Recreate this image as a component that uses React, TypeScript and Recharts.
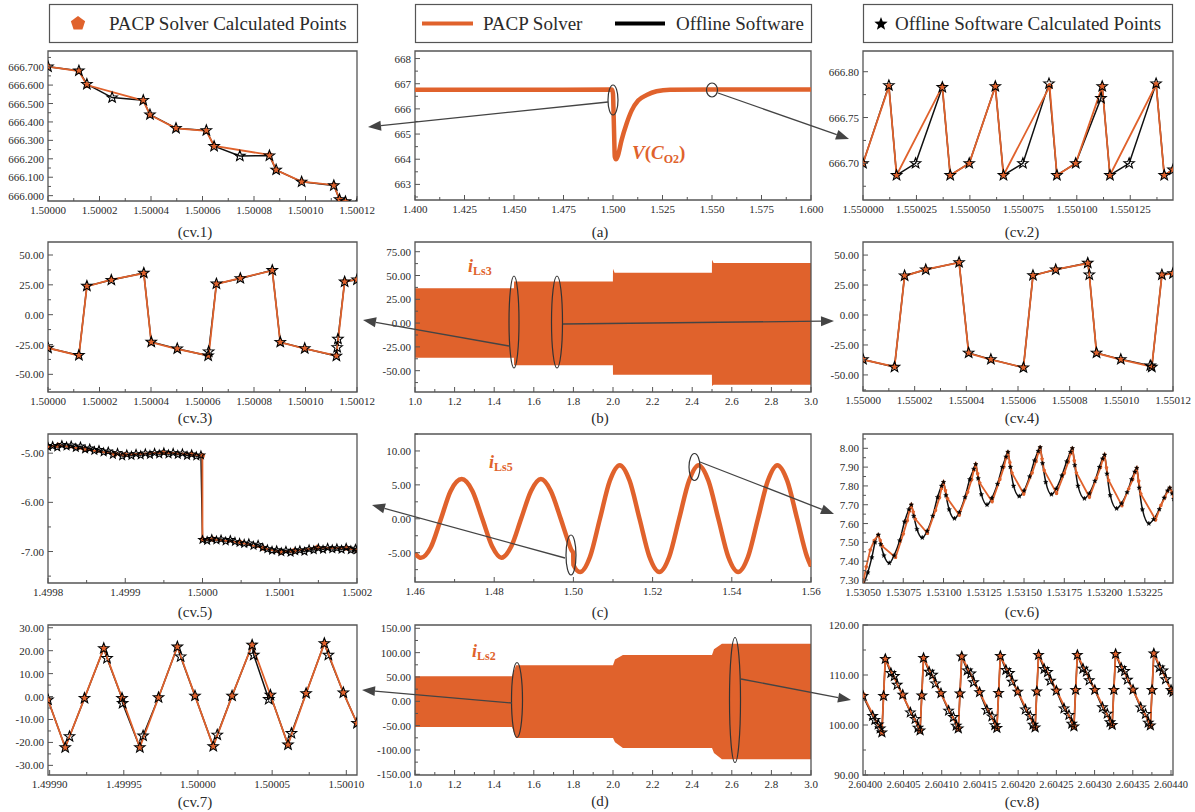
import React from 'react';
import { ComposedChart, Line, Area, XAxis, YAxis, ReferenceArea } from 'recharts';

const ORANGE = '#E0622C';
const AXIS = '#555555';
const TXT = '#2a2a2a';
const FONT = '"Liberation Serif", "Times New Roman", Times, serif';

// ---------------- data (t, value) ----------------
const cv1Pacp = [[1.5, 666.7], [1.500012, 666.676], [1.5000151, 666.6], [1.500037, 666.516], [1.5000396, 666.438], [1.5000497, 666.365], [1.5000615, 666.351], [1.5000645, 666.27], [1.500086, 666.221], [1.5000886, 666.139], [1.5000985, 666.076], [1.500111, 666.058], [1.5001132, 665.98], [1.5001155, 665.968], [1.50012, 665.955]];
const cv1Offline = [[1.5, 666.7], [1.500012, 666.678], [1.5000151, 666.605], [1.5000249, 666.532], [1.500037, 666.518], [1.5000396, 666.44], [1.5000497, 666.366], [1.5000615, 666.354], [1.5000645, 666.268], [1.5000745, 666.215], [1.500086, 666.217], [1.5000886, 666.14], [1.5000985, 666.075], [1.500111, 666.055], [1.5001132, 665.98], [1.5001155, 665.968], [1.50012, 665.955]];

const cv2Pacp = [[1.55, 666.7], [1.5500121, 666.784], [1.5500157, 666.687], [1.5500371, 666.784], [1.5500408, 666.687], [1.5500497, 666.7], [1.5500619, 666.784], [1.5500657, 666.687], [1.5500873, 666.784], [1.5500907, 666.687], [1.5500995, 666.7], [1.5501119, 666.784], [1.5501155, 666.687], [1.5501371, 666.786], [1.5501409, 666.687], [1.550145, 666.693]];
const cv2Offline = [[1.55, 666.7], [1.5500121, 666.785], [1.5500157, 666.687], [1.5500246, 666.7], [1.5500371, 666.783], [1.5500408, 666.687], [1.5500497, 666.7], [1.5500619, 666.784], [1.5500657, 666.687], [1.5500748, 666.7], [1.550087, 666.787], [1.5500907, 666.687], [1.5500995, 666.7], [1.5501113, 666.771], [1.5501119, 666.784], [1.5501155, 666.687], [1.5501245, 666.7], [1.5501371, 666.787], [1.5501409, 666.687], [1.550145, 666.693]];

const cv3Pacp = [[1.5, -27.9], [1.500012, -34.3], [1.5000151, 23.7], [1.5000246, 29.3], [1.5000372, 34.6], [1.5000401, -23.2], [1.5000502, -28.8], [1.5000624, -34.4], [1.5000654, 25.7], [1.5000747, 30.7], [1.5000871, 36.9], [1.5000902, -23.2], [1.5000997, -28.5], [1.500112, -34.4], [1.5001152, 27.9], [1.50012, 29.3]];
const cv3Offline = [[1.5, -27.9], [1.500012, -34.0], [1.5000151, 24.0], [1.5000246, 29.0], [1.5000372, 34.9], [1.5000401, -22.9], [1.5000502, -28.5], [1.5000622, -34.4], [1.5000624, -31.0], [1.5000654, 25.9], [1.5000747, 30.4], [1.5000871, 37.2], [1.5000902, -23.0], [1.5000997, -28.3], [1.500112, -34.6], [1.5001123, -27.4], [1.5001126, -20.4], [1.5001152, 27.6], [1.50012, 29.3]];

const cv4Pacp = [[1.55, -37.3], [1.5500122, -43.1], [1.5500161, 32.5], [1.5500243, 38.1], [1.5500372, 43.7], [1.5500409, -31.9], [1.5500495, -37.3], [1.5500621, -43.7], [1.5500658, 32.8], [1.5500746, 38.1], [1.5500872, 43.1], [1.5500904, -31.9], [1.5500998, -37.3], [1.5501118, -43.1], [1.5501157, 33.3], [1.55012, 34.7]];
const cv4Offline = [[1.55, -37.0], [1.5500122, -43.4], [1.5500161, 32.8], [1.5500243, 37.8], [1.5500372, 43.9], [1.5500409, -31.6], [1.5500495, -37.0], [1.5500621, -43.9], [1.5500658, 33.1], [1.5500746, 37.8], [1.550087, 43.4], [1.5500876, 33.6], [1.5500904, -31.6], [1.5500998, -37.0], [1.5501112, -42.2], [1.5501118, -43.4], [1.5501157, 33.6], [1.55012, 34.7]];

const cv5Pacp = [[1.4998, -4.86], [1.499813, -4.84], [1.4998476, -4.92], [1.4998865, -5.02], [1.4998995, -5.03], [1.4999492, -4.99], [1.4999859, -5.02], [1.4999999, -5.05], [1.5, -6.75], [1.500014, -6.75], [1.5000495, -6.82], [1.5000789, -6.93], [1.5001005, -7.01], [1.5001178, -6.99], [1.5001481, -6.92], [1.500187, -6.93], [1.5002, -6.97]];
const cv5Offline = [[1.4998, -4.87], [1.499806, -4.85], [1.499812, -4.88], [1.499818, -4.83], [1.499824, -4.86], [1.49983, -4.84], [1.499836, -4.89], [1.499842, -4.86], [1.499848, -4.92], [1.499854, -4.9], [1.49986, -4.95], [1.499866, -4.93], [1.499872, -4.98], [1.499878, -4.96], [1.499884, -5.03], [1.49989, -4.99], [1.499896, -5.06], [1.499902, -5.02], [1.499908, -5.05], [1.499914, -5.01], [1.49992, -5.04], [1.499926, -5.0], [1.499932, -5.03], [1.499938, -4.99], [1.499944, -5.02], [1.49995, -4.98], [1.499956, -5.02], [1.499962, -4.99], [1.499968, -5.03], [1.499974, -5.0], [1.49998, -5.05], [1.499986, -5.02], [1.499992, -5.06], [1.499998, -5.04], [1.5, -6.76], [1.500006, -6.78], [1.500012, -6.74], [1.500018, -6.77], [1.500024, -6.75], [1.50003, -6.79], [1.500036, -6.76], [1.500042, -6.8], [1.500048, -6.82], [1.500054, -6.84], [1.50006, -6.83], [1.500066, -6.88], [1.500072, -6.86], [1.500078, -6.92], [1.500084, -6.95], [1.50009, -6.98], [1.500096, -6.97], [1.500102, -7.01], [1.500108, -6.98], [1.500114, -7.02], [1.50012, -6.99], [1.500126, -6.97], [1.500132, -7.0], [1.500138, -6.95], [1.500144, -6.97], [1.50015, -6.93], [1.500156, -6.96], [1.500162, -6.92], [1.500168, -6.95], [1.500174, -6.93], [1.50018, -6.96], [1.500186, -6.92], [1.500192, -6.97], [1.500198, -6.94], [1.5002, -6.97]];

const cv6Pacp = [[1.5305, 7.28], [1.53052, 7.37], [1.530545, 7.46], [1.53057, 7.51], [1.530595, 7.54], [1.530607, 7.51], [1.53062, 7.48], [1.530702, 7.42], [1.53075, 7.545], [1.530775, 7.616], [1.530788, 7.666], [1.5308, 7.7], [1.530812, 7.662], [1.530825, 7.624], [1.5309, 7.548], [1.53095, 7.67], [1.530975, 7.738], [1.530988, 7.787], [1.531, 7.82], [1.531012, 7.776], [1.531025, 7.733], [1.531098, 7.645], [1.53115, 7.767], [1.531175, 7.834], [1.531188, 7.883], [1.5312, 7.915], [1.531212, 7.865], [1.531225, 7.816], [1.531302, 7.716], [1.53135, 7.835], [1.531375, 7.901], [1.531388, 7.948], [1.5314, 7.98], [1.531412, 7.924], [1.531425, 7.869], [1.531498, 7.757], [1.53155, 7.869], [1.531575, 7.931], [1.531588, 7.975], [1.5316, 8.005], [1.531612, 7.944], [1.531625, 7.883], [1.531702, 7.76], [1.53175, 7.868], [1.531775, 7.928], [1.531788, 7.971], [1.5318, 8.0], [1.531812, 7.935], [1.531825, 7.87], [1.531906, 7.74], [1.53195, 7.841], [1.531975, 7.898], [1.531988, 7.938], [1.532, 7.965], [1.532012, 7.897], [1.532025, 7.83], [1.532108, 7.695], [1.53215, 7.785], [1.532175, 7.835], [1.532188, 7.871], [1.5322, 7.895], [1.532212, 7.826], [1.532225, 7.758], [1.532317, 7.62], [1.53235, 7.697], [1.532375, 7.739], [1.53239, 7.77], [1.532405, 7.79], [1.53242, 7.765], [1.53243, 7.74]];
const cv6Offline = [[1.5305, 7.27], [1.53053, 7.34], [1.530555, 7.42], [1.530575, 7.5], [1.530595, 7.54], [1.53061, 7.49], [1.53063, 7.43], [1.530663, 7.39], [1.530693, 7.43], [1.530728, 7.51], [1.530758, 7.61], [1.530785, 7.675], [1.5308, 7.7], [1.530815, 7.64], [1.530835, 7.57], [1.530868, 7.525], [1.530898, 7.56], [1.530933, 7.64], [1.530963, 7.74], [1.530988, 7.8], [1.531, 7.82], [1.531015, 7.75], [1.531035, 7.675], [1.531068, 7.627], [1.531098, 7.66], [1.531133, 7.74], [1.531163, 7.835], [1.531188, 7.89], [1.5312, 7.915], [1.531215, 7.84], [1.531235, 7.755], [1.53127, 7.7], [1.5313, 7.735], [1.531335, 7.81], [1.531365, 7.9], [1.531388, 7.955], [1.5314, 7.98], [1.531415, 7.9], [1.531435, 7.8], [1.53147, 7.745], [1.5315, 7.775], [1.531535, 7.85], [1.531565, 7.935], [1.531588, 7.985], [1.5316, 8.005], [1.531615, 7.92], [1.531635, 7.82], [1.53167, 7.755], [1.5317, 7.785], [1.531735, 7.855], [1.531765, 7.93], [1.531788, 7.98], [1.5318, 8.0], [1.531815, 7.91], [1.531835, 7.8], [1.531875, 7.733], [1.531905, 7.76], [1.53194, 7.826], [1.531968, 7.9], [1.531988, 7.945], [1.532, 7.965], [1.532015, 7.865], [1.532035, 7.75], [1.532075, 7.68], [1.532105, 7.706], [1.53214, 7.766], [1.532168, 7.835], [1.532188, 7.875], [1.5322, 7.895], [1.532215, 7.79], [1.532235, 7.675], [1.532275, 7.6], [1.532305, 7.623], [1.53234, 7.676], [1.53237, 7.737], [1.532392, 7.775], [1.532405, 7.79], [1.53242, 7.76], [1.53243, 7.73]];

const cv7Pacp = [[1.4998989, -1.4], [1.4999105, -22.2], [1.4999235, -0.7], [1.4999365, 21.0], [1.4999488, -0.7], [1.4999608, -22.2], [1.4999734, -0.4], [1.4999861, 21.7], [1.499998, 0.3], [1.5000103, -21.7], [1.500023, 0.3], [1.5000365, 22.5], [1.5000488, 0.7], [1.5000607, -21.0], [1.5000729, 1.4], [1.5000852, 23.2], [1.500098, 1.7], [1.5001072, -11.6]];
const cv7Offline = [[1.4998989, -1.4], [1.4999105, -22.2], [1.4999134, -17.4], [1.4999235, -0.7], [1.4999365, 21.0], [1.4999387, 16.7], [1.4999488, -0.7], [1.4999492, -2.9], [1.4999608, -22.2], [1.499963, -17.1], [1.4999734, -0.4], [1.4999861, 21.7], [1.4999883, 17.4], [1.499998, 0.3], [1.5000103, -21.7], [1.500013, -16.7], [1.500023, 0.3], [1.5000365, 22.5], [1.5000376, 18.1], [1.5000477, -1.2], [1.5000488, 0.7], [1.5000607, -21.0], [1.500063, -16.0], [1.5000729, 1.4], [1.5000852, 23.2], [1.5000879, 18.1], [1.500098, 1.7], [1.5001072, -11.6]];

const cv8Pacp = [[2.603997, 106.0], [2.6040217, 98.5], [2.6040239, 105.8], [2.6040262, 113.2], [2.604049, 105.9], [2.6040717, 98.9], [2.6040739, 105.9], [2.6040762, 113.4], [2.604099, 106.3], [2.6041217, 99.3], [2.6041239, 106.3], [2.6041262, 113.7], [2.6041495, 106.6], [2.6041722, 99.4], [2.6041744, 106.4], [2.6041767, 113.8], [2.6041995, 106.7], [2.6042222, 99.5], [2.6042244, 106.7], [2.6042267, 114.0], [2.60425, 107.0], [2.604273, 99.7], [2.6042752, 107.0], [2.6042775, 114.0], [2.6043005, 107.0], [2.604323, 100.0], [2.6043252, 107.0], [2.6043275, 114.2], [2.6043502, 107.0], [2.604373, 99.9], [2.6043752, 107.0], [2.6043775, 114.3], [2.6044, 107.0], [2.6044026, 106.6]];
const cv8Offline = [[2.603997, 105.8], [2.6040096, 101.8], [2.6040126, 101.0], [2.604017, 100.1], [2.6040196, 99.3], [2.6040217, 98.5], [2.6040239, 105.8], [2.6040262, 113.2],
  [2.6040335, 110.41], [2.604038, 109.78], [2.6040417, 108.04], [2.604049, 106.05], [2.604059, 102.5], [2.6040653, 101.2], [2.604069, 99.46],
  [2.6040717, 98.9], [2.6040739, 105.9], [2.6040762, 113.4],
  [2.6040835, 110.64], [2.604088, 110.03], [2.6040917, 108.31], [2.604099, 106.35], [2.604109, 102.85], [2.6041153, 101.57], [2.604119, 99.85],
  [2.6041217, 99.3], [2.6041239, 106.3], [2.6041262, 113.7],
  [2.6041335, 110.91], [2.604138, 110.28], [2.6041417, 108.54], [2.6041495, 106.55], [2.604159, 103.0], [2.6041658, 101.7], [2.6041695, 99.96],
  [2.6041722, 99.4], [2.6041744, 106.4], [2.6041767, 113.8],
  [2.604184, 111.01], [2.6041885, 110.38], [2.6041922, 108.64], [2.6041995, 106.65], [2.6042095, 103.1], [2.6042158, 101.8], [2.6042195, 100.06],
  [2.6042222, 99.5], [2.6042244, 106.7], [2.6042267, 114.0],
  [2.604234, 111.21], [2.6042385, 110.58], [2.6042422, 108.84], [2.60425, 106.85], [2.60426, 103.3], [2.6042665, 102.0], [2.6042702, 100.26],
  [2.604273, 99.7], [2.6042752, 107.0], [2.6042775, 114.0],
  [2.6042848, 111.26], [2.6042893, 110.66], [2.604293, 108.94], [2.6043003, 107.0], [2.6043103, 103.52], [2.6043166, 102.26], [2.6043203, 100.54],
  [2.604323, 100.0], [2.6043252, 107.0], [2.6043275, 114.2],
  [2.6043348, 111.41], [2.6043393, 110.78], [2.604343, 109.04], [2.6043503, 107.05], [2.6043603, 103.5], [2.6043666, 102.2], [2.6043703, 100.46],
  [2.604373, 99.9], [2.6043752, 107.0], [2.6043775, 114.3],
  [2.6043848, 111.51], [2.6043893, 110.88], [2.604393, 109.14], [2.6044, 107.0], [2.6044026, 106.6]];

const aPacp = [[1.4, 666.76], [1.45, 666.76], [1.4995, 666.77], [1.5, 666.6], [1.5003, 665.8], [1.5006, 664.9], [1.5009, 664.1], [1.5015, 664.0], [1.5025, 664.15], [1.5043, 664.75], [1.5068, 665.4], [1.5094, 665.93], [1.5127, 666.33], [1.517, 666.55], [1.522, 666.7], [1.5288, 666.76], [1.55, 666.77], [1.6, 666.77]];
const aOffline = aPacp;

const cPacp = [[1.46, -5.1], [1.4615, -5.75], [1.464, -4.2], [1.4665, -0.1], [1.469, 4.1], [1.4718, 5.85], [1.4745, 4.1], [1.477, 0.0], [1.4795, -4.1], [1.4818, -5.75], [1.4843, -4.1], [1.4868, 0.0], [1.4893, 4.1], [1.4918, 5.85], [1.4943, 4.1], [1.4968, 0.0], [1.4985, -3.0], [1.4995, -4.6], [1.49995, -5.05], [1.5, -6.8], [1.5017, -7.85], [1.5042, -5.6], [1.5067, 0.0], [1.5092, 5.6], [1.5117, 7.9], [1.5142, 5.6], [1.5167, 0.0], [1.5192, -5.6], [1.5217, -7.85], [1.5242, -5.6], [1.5267, 0.0], [1.5292, 5.6], [1.5316, 7.9], [1.5341, 5.6], [1.5366, 0.0], [1.5391, -5.6], [1.5416, -7.85], [1.5441, -5.6], [1.5466, 0.0], [1.5491, 5.6], [1.5515, 7.9], [1.554, 5.6], [1.5565, 0.0], [1.559, -5.6], [1.56, -7.0]];
const cOffline = cPacp;

// envelopes of the fast oscillating currents: [t, low, high]
const bBand = [[1.0, -36.5, 36.5], [1.4995, -36.5, 36.5], [1.5005, -44.4, 43.8], [1.9995, -44.4, 43.8], [2.0, -54.2, 57.0], [2.008, -54.2, 53.0], [2.4995, -54.2, 53.0], [2.5, -66.0, 66.5], [2.508, -64.7, 63.2], [3.0, -64.7, 63.2]];
const dBand = [[1.0, -52.7, 51.4], [1.49, -52.7, 51.4], [1.51, -75.3, 74.0], [2.0, -75.3, 74.0], [2.01, -84.0, 86.0], [2.05, -96.0, 95.0], [2.5, -96.0, 95.0], [2.51, -106.0, 107.0], [2.55, -119.0, 118.5], [3.0, -119.0, 118.5]];

// ---------------- ticks ----------------
const cv1X = [1.5, 1.50002, 1.50004, 1.50006, 1.50008, 1.5001, 1.50012];
const cv1Y = [666.0, 666.1, 666.2, 666.3, 666.4, 666.5, 666.6, 666.7];
const aX = [1.4, 1.425, 1.45, 1.475, 1.5, 1.525, 1.55, 1.575, 1.6];
const aY = [663, 664, 665, 666, 667, 668];
const cv2X = [1.55, 1.550025, 1.55005, 1.550075, 1.5501, 1.550125];
const cv2Y = [666.7, 666.75, 666.8];
const cv3X = [1.5, 1.50002, 1.50004, 1.50006, 1.50008, 1.5001, 1.50012];
const cv3Y = [-50, -25, 0, 25, 50];
const bX = [1.0, 1.2, 1.4, 1.6, 1.8, 2.0, 2.2, 2.4, 2.6, 2.8, 3.0];
const bY = [-50, -25, 0, 25, 50, 75];
const cv4X = [1.55, 1.55002, 1.55004, 1.55006, 1.55008, 1.5501, 1.55012];
const cv4Y = [-50, -25, 0, 25, 50];
const cv5X = [1.4998, 1.4999, 1.5, 1.5001, 1.5002];
const cv5Y = [-7, -6, -5];
const cX = [1.46, 1.48, 1.5, 1.52, 1.54, 1.56];
const cY = [-5, 0, 5, 10];
const cv6X = [1.5305, 1.53075, 1.531, 1.53125, 1.5315, 1.53175, 1.532, 1.53225];
const cv6Y = [7.3, 7.4, 7.5, 7.6, 7.7, 7.8, 7.9, 8.0];
const cv7X = [1.4999, 1.49995, 1.5, 1.50005, 1.5001];
const cv7Y = [-30, -20, -10, 0, 10, 20, 30];
const dX = [1.0, 1.2, 1.4, 1.6, 1.8, 2.0, 2.2, 2.4, 2.6, 2.8, 3.0];
const dY = [-150, -100, -50, 0, 50, 100, 150];
const cv8X = [2.604, 2.60405, 2.6041, 2.60415, 2.6042, 2.60425, 2.6043, 2.60435, 2.6044];
const cv8Y = [90, 100, 110, 120];

// ---------------- helpers ----------------
const rows = (pts: number[][]) => pts.map(([t, v]) => ({ t, v }));
const bandRows = (pts: number[][]) => pts.map(([t, lo, hi]) => ({ t, r: [lo, hi] }));

function withMinor(majors: number[], dom: number[]) {
  const step = majors[1] - majors[0];
  const out = [...majors];
  for (let i = 0; i < majors.length - 1; i++) out.push((majors[i] + majors[i + 1]) / 2);
  const lo = majors[0] - step / 2;
  const hi = majors[majors.length - 1] + step / 2;
  if (lo >= dom[0]) out.push(lo);
  if (hi <= dom[1]) out.push(hi);
  return out.sort((a, b) => a - b);
}
const isMajor = (v: number, majors: number[]) => {
  const s = Math.abs(majors[1] - majors[0]);
  return majors.some((m) => Math.abs(m - v) < s * 1e-3);
};
const xTick = (majors: number[], dec: number, fs: number) => (p: any) => {
  const { x, y, payload } = p;
  const v = payload.value;
  const M = isMajor(v, majors);
  return (
    <g>
      <line x1={x} x2={x} y1={y} y2={y - (M ? 5 : 3)} stroke={AXIS} strokeWidth={1} />
      {M ? (
        <text x={x} y={y + 13} textAnchor="middle" fontSize={fs} fontFamily={FONT} fill={TXT}>
          {v.toFixed(dec)}
        </text>
      ) : null}
    </g>
  );
};
const yTick = (majors: number[], dec: number) => (p: any) => {
  const { x, y, payload } = p;
  const v = payload.value;
  const M = isMajor(v, majors);
  return (
    <g>
      <line x1={x} x2={x + (M ? 5 : 3)} y1={y} y2={y} stroke={AXIS} strokeWidth={1} />
      {M ? (
        <text x={x - 4} y={y + 4} textAnchor="end" fontSize={11} fontFamily={FONT} fill={TXT}>
          {v.toFixed(dec)}
        </text>
      ) : null}
    </g>
  );
};

const starPath = (cx: number, cy: number, R: number) => {
  const r = R * 0.42;
  let d = '';
  for (let i = 0; i < 10; i++) {
    const a = -Math.PI / 2 + (i * Math.PI) / 5;
    const rr = i % 2 === 0 ? R : r;
    d += (i ? 'L' : 'M') + (cx + rr * Math.cos(a)).toFixed(2) + ',' + (cy + rr * Math.sin(a)).toFixed(2);
  }
  return d + 'Z';
};
const pentPath = (cx: number, cy: number, R: number) => {
  let d = '';
  for (let i = 0; i < 5; i++) {
    const a = -Math.PI / 2 + (i * 2 * Math.PI) / 5;
    d += (i ? 'L' : 'M') + (cx + R * Math.cos(a)).toFixed(2) + ',' + (cy + R * Math.sin(a)).toFixed(2);
  }
  return d + 'Z';
};
const starDot = (R: number, filled: boolean) => (p: any) => {
  const { cx, cy, index } = p;
  if (!Number.isFinite(cx) || !Number.isFinite(cy)) return <g key={`s${index}`} />;
  return (
    <path key={`s${index}`} d={starPath(cx, cy, R)} fill={filled ? '#000' : 'none'} stroke="#000" strokeWidth={filled ? 0.4 : 1.1} />
  );
};
const pentDot = (R: number) => (p: any) => {
  const { cx, cy, index } = p;
  if (!Number.isFinite(cx) || !Number.isFinite(cy)) return <g key={`p${index}`} />;
  return <path key={`p${index}`} d={pentPath(cx, cy, R)} fill={ORANGE} stroke="none" />;
};

const ML = 50, MT = 6, MR = 24, MB = 24;

function Panel({ cfg, data, children }: any) {
  const [x0, y0, x1, y1] = cfg.rect;
  const w = x1 - x0 + ML + MR;
  const h = y1 - y0 + MT + MB;
  return (
    <div style={{ position: 'absolute', left: x0 - ML, top: y0 - MT, width: w, height: h }}>
      <ComposedChart width={w} height={h} data={data} margin={{ top: MT, right: MR, bottom: 0, left: 0 }}>
        <XAxis type="number" dataKey="t" domain={cfg.xd} allowDataOverflow ticks={withMinor(cfg.xt, cfg.xd)} interval={0}
          height={MB} tickSize={0} tickMargin={0} tickLine={false} axisLine={false} tick={xTick(cfg.xt, cfg.xdec, cfg.xfs || 11)} />
        <YAxis type="number" domain={cfg.yd} allowDataOverflow ticks={withMinor(cfg.yt, cfg.yd)} interval={0}
          width={ML} tickSize={0} tickMargin={0} tickLine={false} axisLine={false} tick={yTick(cfg.yt, cfg.ydec)} />
        {children}
        <ReferenceArea x1={cfg.xd[0]} x2={cfg.xd[1]} y1={cfg.yd[0]} y2={cfg.yd[1]} fill="none" stroke={AXIS} strokeWidth={1.3} ifOverflow="visible" />
      </ComposedChart>
    </div>
  );
}

function pointSeries(pacp: number[][], off: number[][], starR: number, pentR: number, filled: boolean, smoothBlack: boolean) {
  return [
    <Line key="ob" data={rows(off)} dataKey="v" type={smoothBlack ? 'monotone' : 'linear'} stroke="#111" strokeWidth={1.5} dot={false} activeDot={false} isAnimationActive={false} />,
    <Line key="pa" data={rows(pacp)} dataKey="v" type="linear" stroke={ORANGE} strokeWidth={1.8} dot={pentDot(pentR)} activeDot={false} isAnimationActive={false} />,
    <Line key="st" data={rows(off)} dataKey="v" type="linear" stroke="none" dot={starDot(starR, filled)} activeDot={false} isAnimationActive={false} />,
  ];
}
function lineSeries(pacp: number[][], off: number[][]) {
  return [
    <Line key="ob" data={rows(off)} dataKey="v" type="monotone" stroke="#000" strokeWidth={2.5} dot={false} activeDot={false} isAnimationActive={false} />,
    <Line key="pa" data={rows(pacp)} dataKey="v" type="monotone" stroke={ORANGE} strokeWidth={4.5} dot={false} activeDot={false} isAnimationActive={false} />,
  ];
}
const band = <Area key="band" dataKey="r" type="linear" stroke="none" fill={ORANGE} fillOpacity={1} isAnimationActive={false} activeDot={false} />;

// layout (page pixels of each plot frame)
const cfgCv1 = { rect: [48, 51, 357, 201], xd: [1.5, 1.50012], yd: [665.971, 666.785], xt: cv1X, yt: cv1Y, xdec: 5, ydec: 3 };
const cfgA = { rect: [415, 51, 811, 200], xd: [1.4, 1.6], yd: [662.38, 668.3], xt: aX, yt: aY, xdec: 3, ydec: 0 };
const cfgCv2 = { rect: [863, 51, 1173, 200], xd: [1.55, 1.550145], yd: [666.66, 666.8226], xt: cv2X, yt: cv2Y, xdec: 6, ydec: 2 };
const cfgCv3 = { rect: [48, 242, 357, 392], xd: [1.5, 1.50012], yd: [-64.8, 60.9], xt: cv3X, yt: cv3Y, xdec: 5, ydec: 2 };
const cfgB = { rect: [415, 242, 811, 392], xd: [1.0, 3.0], yd: [-72.4, 85.2], xt: bX, yt: bY, xdec: 1, ydec: 2 };
const cfgCv4 = { rect: [863, 242, 1173, 391], xd: [1.55, 1.55012], yd: [-63.4, 60.9], xt: cv4X, yt: cv4Y, xdec: 5, ydec: 2 };
const cfgCv5 = { rect: [48, 434, 357, 583], xd: [1.4998, 1.5002], yd: [-7.64, -4.61], xt: cv5X, yt: cv5Y, xdec: 4, ydec: 2 };
const cfgC = { rect: [415, 434, 811, 582], xd: [1.46, 1.56], yd: [-9.32, 12.5], xt: cX, yt: cY, xdec: 2, ydec: 2 };
const cfgCv6 = { rect: [863, 434, 1173, 583], xd: [1.5305, 1.532425], yd: [7.284, 8.076], xt: cv6X, yt: cv6Y, xdec: 5, ydec: 2 };
const cfgCv7 = { rect: [48, 625, 357, 775], xd: [1.4998989, 1.5001072], yd: [-34.2, 31.2], xt: cv7X, yt: cv7Y, xdec: 5, ydec: 2 };
const cfgD = { rect: [415, 625, 811, 775], xd: [1.0, 3.0], yd: [-151.4, 156.8], xt: dX, yt: dY, xdec: 1, ydec: 2 };
const cfgCv8 = { rect: [863, 625, 1173, 775], xd: [2.603997, 2.6044026], yd: [90, 120], xt: cv8X, yt: cv8Y, xdec: 5, ydec: 2, xfs: 10.5 };

const captions = [
  { t: '(cv.1)', x: 195, y: 232 }, { t: '(a)', x: 600, y: 232 }, { t: '(cv.2)', x: 1022, y: 232 },
  { t: '(cv.3)', x: 195, y: 418 }, { t: '(b)', x: 600, y: 418 }, { t: '(cv.4)', x: 1022, y: 418 },
  { t: '(cv.5)', x: 195, y: 612 }, { t: '(c)', x: 600, y: 612 }, { t: '(cv.6)', x: 1022, y: 612 },
  { t: '(cv.7)', x: 195, y: 802 }, { t: '(d)', x: 600, y: 801 }, { t: '(cv.8)', x: 1022, y: 802 },
];
const ellipses = [
  [613, 100, 5, 15], [712, 90, 5.5, 7], [514, 322, 5, 46], [557, 322, 5.5, 46],
  [571, 555, 5, 20], [694.5, 467, 5.5, 13.5], [517, 700, 5.5, 37.5], [735, 700, 5.5, 62.5],
];
const arrows = [
  [608, 102, 368, 127], [718, 93, 849, 139], [509, 346, 363, 320], [563, 324, 834, 321],
  [565, 558, 372, 505], [700, 462, 834, 514], [512, 703, 362, 690], [741, 679, 851, 700],
];

function Arrow({ a }: { a: number[] }) {
  const [x1, y1, x2, y2] = a;
  const ang = Math.atan2(y2 - y1, x2 - x1);
  const L = 13, W = 5;
  const bx = x2 - L * Math.cos(ang), by = y2 - L * Math.sin(ang);
  const p1 = `${bx + W * Math.sin(ang)},${by - W * Math.cos(ang)}`;
  const p2 = `${bx - W * Math.sin(ang)},${by + W * Math.cos(ang)}`;
  return (
    <g>
      <line x1={x1} y1={y1} x2={bx} y2={by} stroke="#444" strokeWidth={1.3} />
      <polygon points={`${x2},${y2} ${p1} ${p2}`} fill="#444" />
    </g>
  );
}

export default function App() {
  return (
    <div style={{ position: 'absolute', left: 0, top: 0, width: 1195, height: 812, background: '#fff', overflow: 'hidden', fontFamily: FONT }}>
      <Panel cfg={cfgCv1}>{pointSeries(cv1Pacp, cv1Offline, 5.5, 3.5, false, false)}</Panel>
      <Panel cfg={cfgA}>{lineSeries(aPacp, aOffline)}</Panel>
      <Panel cfg={cfgCv2}>{pointSeries(cv2Pacp, cv2Offline, 5.5, 3.5, false, false)}</Panel>
      <Panel cfg={cfgCv3}>{pointSeries(cv3Pacp, cv3Offline, 5.5, 3.5, false, false)}</Panel>
      <Panel cfg={cfgB} data={bandRows(bBand)}>{band}</Panel>
      <Panel cfg={cfgCv4}>{pointSeries(cv4Pacp, cv4Offline, 5.5, 3.5, false, false)}</Panel>
      <Panel cfg={cfgCv5}>{pointSeries(cv5Pacp, cv5Offline, 4, 3, false, false)}</Panel>
      <Panel cfg={cfgC}>{lineSeries(cPacp, cOffline)}</Panel>
      <Panel cfg={cfgCv6}>{pointSeries(cv6Pacp, cv6Offline, 2.4, 2, true, true)}</Panel>
      <Panel cfg={cfgCv7}>{pointSeries(cv7Pacp, cv7Offline, 5.5, 3.5, false, false)}</Panel>
      <Panel cfg={cfgD} data={bandRows(dBand)}>{band}</Panel>
      <Panel cfg={cfgCv8}>{pointSeries(cv8Pacp, cv8Offline, 5, 3.5, false, false)}</Panel>

      <svg width={1195} height={812} style={{ position: 'absolute', left: 0, top: 0, pointerEvents: 'none' }}>
        {/* legends */}
        <rect x={49.5} y={4.5} width={308} height={38} fill="#fff" stroke={AXIS} strokeWidth={1.2} />
        <path d={pentPath(78, 23.5, 7.5)} fill={ORANGE} />
        <text x={109} y={30} fontSize={19} fontFamily={FONT} fill={TXT}>PACP Solver Calculated Points</text>

        <rect x={415.5} y={4.5} width={396} height={38} fill="#fff" stroke={AXIS} strokeWidth={1.2} />
        <line x1={422} x2={473} y1={23.5} y2={23.5} stroke={ORANGE} strokeWidth={4} />
        <text x={483} y={30} fontSize={19} fontFamily={FONT} fill={TXT}>PACP Solver</text>
        <line x1={615} x2={665} y1={23.5} y2={23.5} stroke="#000" strokeWidth={4} />
        <text x={676} y={30} fontSize={19} fontFamily={FONT} fill={TXT}>Offline Software</text>

        <rect x={863.5} y={4.5} width={309} height={38} fill="#fff" stroke={AXIS} strokeWidth={1.2} />
        <path d={starPath(881, 24, 7)} fill="#000" />
        <text x={895} y={30} fontSize={19} fontFamily={FONT} fill={TXT}>Offline Software Calculated Points</text>

        {/* captions */}
        {captions.map((c) => (
          <text key={c.t} x={c.x} y={c.y + 5} textAnchor="middle" fontSize={15} fontFamily={FONT} fill={TXT}>{c.t}</text>
        ))}

        {/* annotations */}
        {ellipses.map((e, i) => (
          <ellipse key={i} cx={e[0]} cy={e[1]} rx={e[2]} ry={e[3]} fill="none" stroke="#333" strokeWidth={1.2} />
        ))}
        {arrows.map((a, i) => <Arrow key={i} a={a} />)}

        <text x={632} y={159} fontSize={19} fontFamily={FONT} fontWeight="bold" fill={ORANGE}>
          <tspan fontStyle="italic">V</tspan>(<tspan fontStyle="italic">C</tspan><tspan fontSize={12} dy={4}>O2</tspan><tspan dy={-4}>)</tspan>
        </text>
        <text x={468} y={272} fontSize={18} fontFamily={FONT} fontWeight="bold" fill={ORANGE}>
          <tspan fontStyle="italic">i</tspan><tspan fontSize={12} dy={3}>Ls3</tspan>
        </text>
        <text x={489} y={468} fontSize={18} fontFamily={FONT} fontWeight="bold" fill={ORANGE}>
          <tspan fontStyle="italic">i</tspan><tspan fontSize={12} dy={3}>Ls5</tspan>
        </text>
        <text x={472} y={657} fontSize={18} fontFamily={FONT} fontWeight="bold" fill={ORANGE}>
          <tspan fontStyle="italic">i</tspan><tspan fontSize={12} dy={3}>Ls2</tspan>
        </text>
      </svg>
    </div>
  );
}
